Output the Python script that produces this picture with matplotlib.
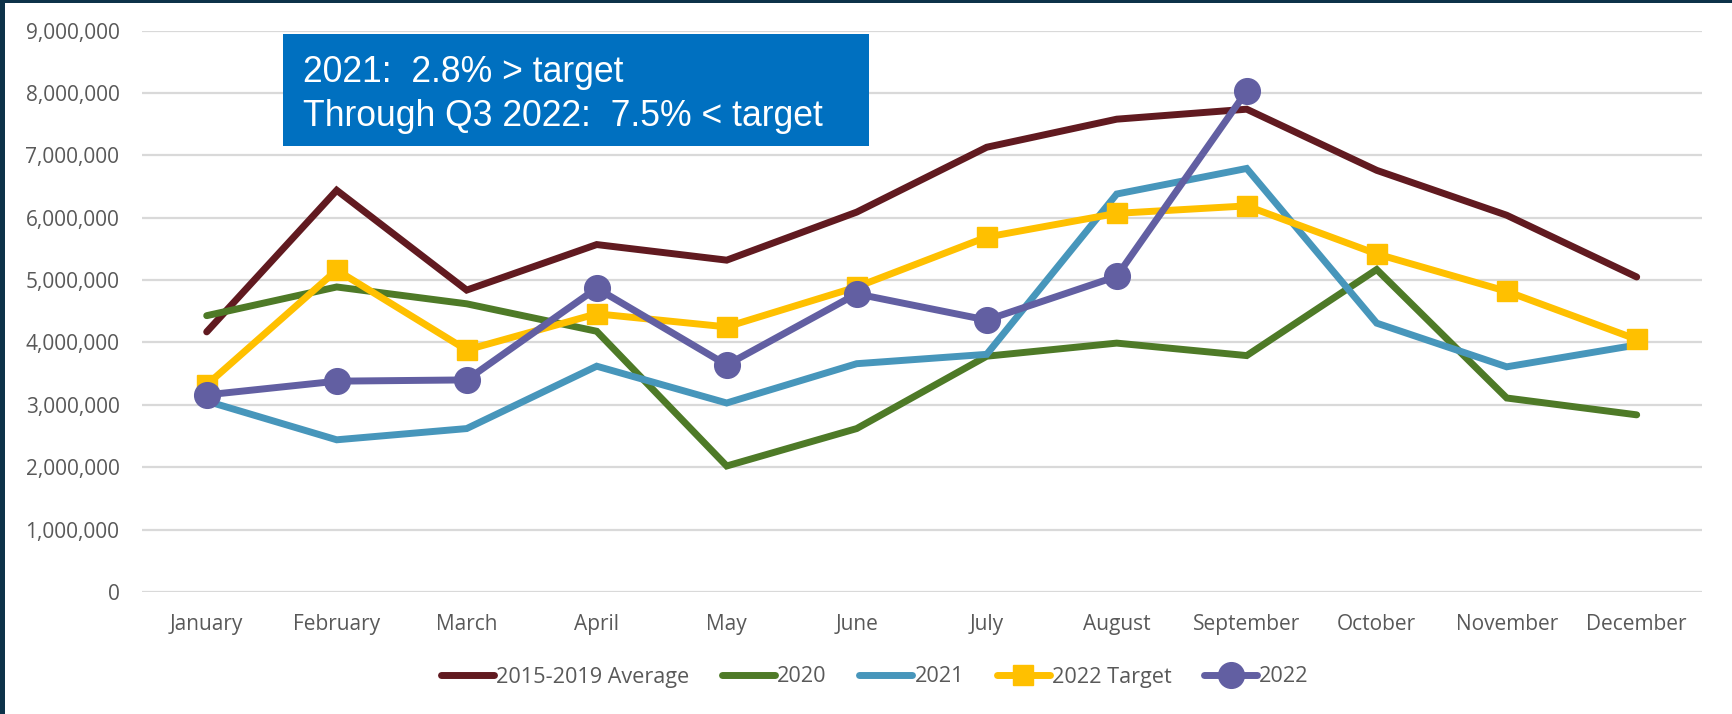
import matplotlib
matplotlib.use("Agg")
import matplotlib.pyplot as plt
from matplotlib.ticker import FuncFormatter, MultipleLocator
from matplotlib.patches import Rectangle
from matplotlib.lines import Line2D

months = ["January", "February", "March", "April", "May", "June", "July",
          "August", "September", "October", "November", "December"]
avg_1519 = [4.17e6, 6.44e6, 4.84e6, 5.57e6, 5.32e6, 6.09e6, 7.13e6, 7.58e6, 7.74e6, 6.76e6, 6.04e6, 5.05e6]
y2020 = [4.43e6, 4.89e6, 4.62e6, 4.18e6, 2.02e6, 2.62e6, 3.78e6, 3.99e6, 3.79e6, 5.17e6, 3.11e6, 2.84e6]
y2021 = [3.06e6, 2.44e6, 2.62e6, 3.62e6, 3.03e6, 3.66e6, 3.81e6, 6.38e6, 6.79e6, 4.31e6, 3.61e6, 3.96e6]
target2022 = [3.32e6, 5.16e6, 3.88e6, 4.46e6, 4.25e6, 4.89e6, 5.69e6, 6.07e6, 6.19e6, 5.42e6, 4.82e6, 4.05e6]
y2022 = [3.16e6, 3.38e6, 3.40e6, 4.87e6, 3.64e6, 4.78e6, 4.36e6, 5.06e6, 8.03e6]
series_names = ["2015-2019 Average", "2020", "2021", "2022 Target", "2022"]
annotation = ["2021:  2.8% > target", "Through Q3 2022:  7.5% < target"]

W, H = 1733, 714
fig = plt.figure(figsize=(W / 100, H / 100), dpi=100)
fig.patch.set_facecolor("white")

ax = fig.add_axes([141.7 / W, 1 - 592 / H, (1701.7 - 141.7) / W, (592 - 30.6) / H])

x = list(range(len(months)))
c_avg, c_20, c_21, c_tg, c_22 = "#611A20", "#4E7A27", "#4796BB", "#FFC000", "#625FA2"
lw = 5
ax.plot(x, avg_1519, color=c_avg, lw=lw, solid_capstyle="round", solid_joinstyle="miter", zorder=3)
ax.plot(x, y2020, color=c_20, lw=lw, solid_capstyle="round", solid_joinstyle="miter", zorder=4)
ax.plot(x, y2021, color=c_21, lw=lw, solid_capstyle="round", solid_joinstyle="miter", zorder=5)
ax.plot(x, target2022, color=c_tg, lw=lw, marker="s", markersize=14, solid_capstyle="round",
        solid_joinstyle="miter", zorder=6)
ax.plot(x[:len(y2022)], y2022, color=c_22, lw=lw, marker="o", markersize=18.5, solid_capstyle="round",
        solid_joinstyle="miter", zorder=7)

ax.set_xlim(-0.5, 11.5)
ax.set_ylim(0, 9e6)
ax.yaxis.set_major_locator(MultipleLocator(1e6))
ax.yaxis.set_major_formatter(FuncFormatter(lambda v, p: f"{int(round(v)):,}"))
ax.set_xticks(x)
ax.set_xticklabels(months)
for s in ax.spines.values():
    s.set_visible(False)
ax.grid(axis="y", color="#D9D9D9", lw=1.6, zorder=0)
ax.set_axisbelow(True)
ax.tick_params(axis="both", length=0, labelcolor="#595959", labelsize=15)
ax.tick_params(axis="y", pad=16)
ax.tick_params(axis="x", pad=15.5)
for lab in ax.get_xticklabels() + ax.get_yticklabels():
    lab.set_fontfamily("Open Sans")

# annotation box
fig.patches.append(Rectangle((283 / W, 1 - 146 / H), (869 - 283) / W, (146 - 34) / H,
                             transform=fig.transFigure, facecolor="#0070C0", edgecolor="none", zorder=10))
fig.text(303 / W, 1 - 82 / H, annotation[0], color="white", fontsize=25.6, family="Liberation Sans",
         va="baseline", ha="left", zorder=11)
fig.text(303 / W, 1 - 126 / H, annotation[1], color="white", fontsize=25.6, family="Liberation Sans",
         va="baseline", ha="left", zorder=11)

# legend
handles = [
    Line2D([], [], color=c_avg, lw=lw, solid_capstyle="round"),
    Line2D([], [], color=c_20, lw=lw, solid_capstyle="round"),
    Line2D([], [], color=c_21, lw=lw, solid_capstyle="round"),
    Line2D([], [], color=c_tg, lw=lw, marker="s", markersize=14, solid_capstyle="round"),
    Line2D([], [], color=c_22, lw=lw, marker="o", markersize=18.5, solid_capstyle="round"),
]
leg = fig.legend(handles, series_names, loc="center", bbox_to_anchor=(875 / W, 1 - 677 / H),
                 ncol=5, frameon=False, handlelength=2.45, handletextpad=0.1, columnspacing=1.5,
                 prop={"family": "Open Sans", "size": 15.6})
for t in leg.get_texts():
    t.set_color("#595959")

# dark border on left and top
fig.patches.append(Rectangle((0, 0), 4.5 / W, 1, transform=fig.transFigure,
                             facecolor="#0D3249", edgecolor="none", zorder=20))
fig.patches.append(Rectangle((0, 1 - 2.5 / H), 1, 2.5 / H, transform=fig.transFigure,
                             facecolor="#0D3249", edgecolor="none", zorder=20))

fig.savefig("out.png", dpi=100, facecolor="white")
